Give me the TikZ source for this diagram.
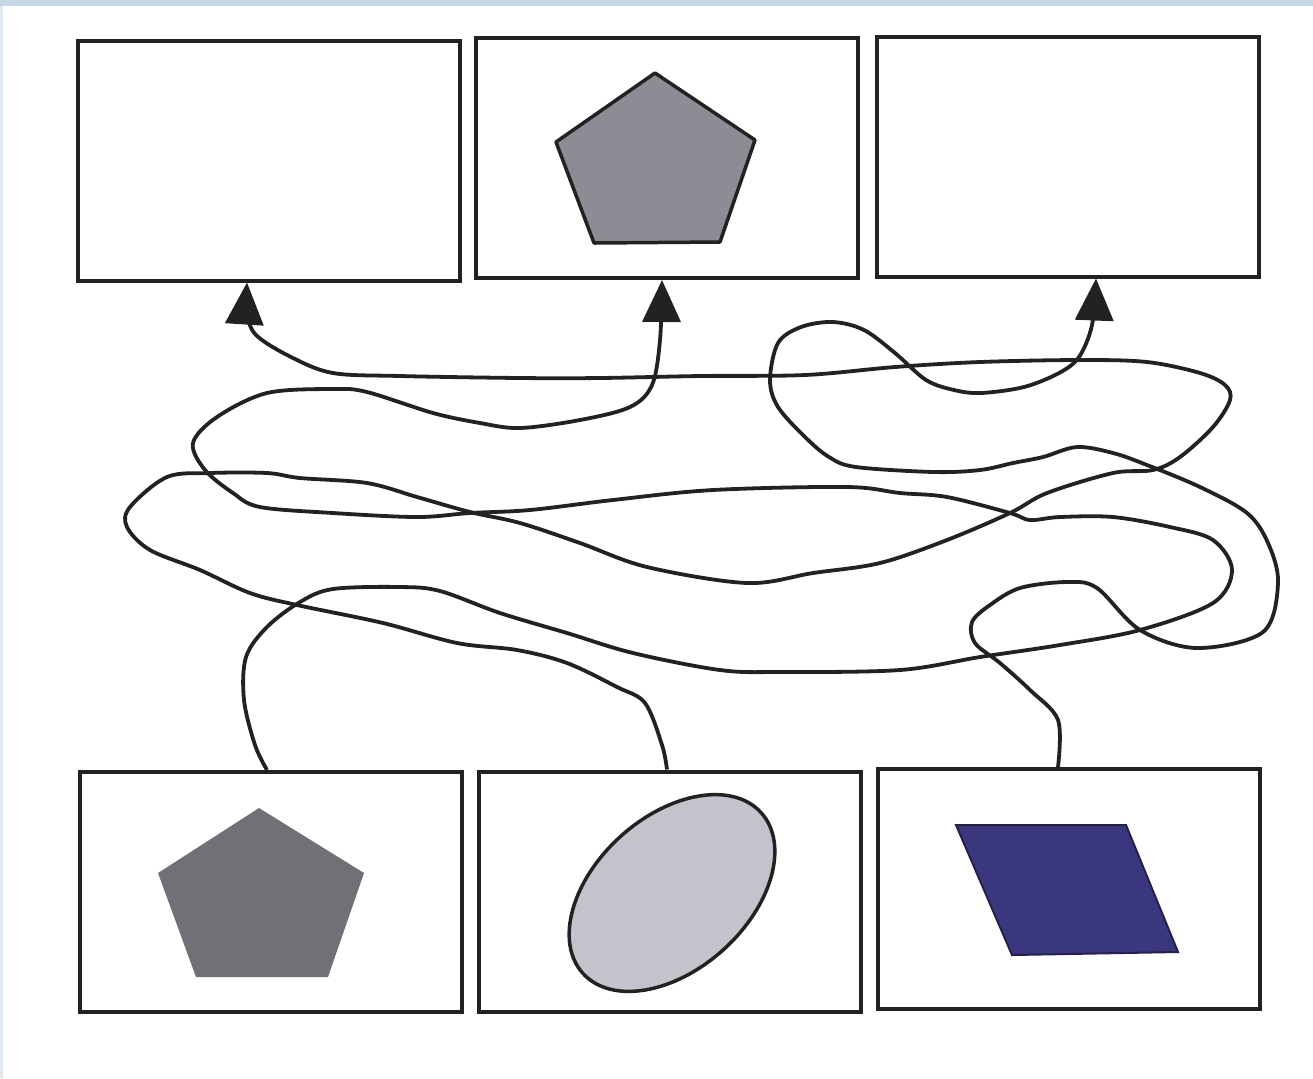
\documentclass[tikz,border=0pt]{standalone}
\usetikzlibrary{arrows.meta}
\definecolor{inkline}{HTML}{222222}
\definecolor{pentagray}{HTML}{8C8C94}
\definecolor{pentadark}{HTML}{707076}
\definecolor{ovalgray}{HTML}{C3C3CB}
\definecolor{rhombblue}{HTML}{3A377F}
\definecolor{stripblue}{HTML}{C9D8E8}
\begin{document}
\begin{tikzpicture}[x=0.1mm, y=-0.1mm, >={Triangle[width=3.8mm,length=4.2mm]},
    panel/.style={draw=inkline, line width=0.4mm, minimum width=38.2mm, minimum height=24mm, inner sep=0pt},
    wire/.style={draw=inkline, line width=0.38mm, ->}]
    \useasboundingbox (0,0) rectangle (1313,1078);
    \fill[stripblue] (0,0) rectangle (1313,6);
    \fill[stripblue!60] (0,6) rectangle (3,1078);
    % top row
    \node[panel] (tl) at (268.5,160.5) {};
    \node[panel] (tm) at (667,158) {};
    \node[panel] (tr) at (1067.5,156.5) {};
    % bottom row
    \node[panel] (bl) at (270.5,892) {};
    \node[panel] (bm) at (670,891.5) {};
    \node[panel] (br) at (1069,889) {};
    % shapes in the panels
    \filldraw[fill=pentagray, draw=inkline, line width=0.35mm, line join=round]
      (655,73) -- (755,140) -- (720,242) -- (594,243) -- (556,142) -- cycle;
    \fill[pentadark] (259,808) -- (364,873) -- (328,977) -- (196,977) -- (158,873) -- cycle;
    \filldraw[fill=ovalgray, draw=inkline, line width=0.35mm, rotate around={42:(672,893)}]
      (672,893) ellipse [x radius=12mm, y radius=7.65mm];
    \filldraw[fill=rhombblue, draw=rhombblue!60!black, line width=0.2mm]
      (956,825) -- (1126,825) -- (1178,952) -- (1012,955) -- cycle;
    % tangled wires
    \draw[wire] plot[smooth, tension=0.55] coordinates {([xshift=-0.3mm]bm.north)
      (662,745) (645,703) (617,687) (567,663) (517,650) (457,643) (383,623) (297,605)
      (250,593) (200,570) (150,550) (127,527) (130,507) (167,477) (210,473) (267,473)
      (300,478) (367,483) (417,497) (470,512) (520,523) (580,543) (647,567) (747,583)
      (813,573) (880,563) (947,540) (1010,513) (1047,493) (1113,473) (1153,470)
      (1180,457) (1213,427) (1230,400) (1225,385) (1200,373) (1147,362) (1080,360)
      (980,362) (895,367) (805,375) (700,376) (600,378) (520,378) (400,376) (333,373)
      (291,357) (256,335) (247,312) ([xshift=-2.15mm]tl.south)};
    \draw[wire] plot[smooth, tension=0.55] coordinates {([xshift=-0.35mm]bl.north)
      (255,745) (244,700) (246,657) (267,627) (300,602) (333,589) (400,587) (440,591)
      (500,613) (567,633) (633,653) (720,670) (780,672) (900,670) (980,657) (1060,645)
      (1140,630) (1213,603) (1232,570) (1213,540) (1170,527) (1113,517) (1060,517)
      (1030,520) (1010,513) (947,497) (900,493) (847,487) (713,490) (613,500) (530,510)
      (470,513) (417,517) (333,513) (260,507) (233,493) (205,470) (193,443) (217,417)
      (267,393) (333,389) (367,392) (433,413) (480,423) (520,428) (580,420) (630,407)
      (652,385) (660,340) ([xshift=-0.5mm]tm.south)};
    \draw[wire] plot[smooth, tension=0.55] coordinates {([xshift=-1.1mm]br.north)
      (1058,720) (1030,690) (1000,663) (975,643) (972,622) (990,605) (1020,588)
      (1067,582) (1097,588) (1140,630) (1197,648) (1263,632) (1278,583) (1268,543)
      (1247,513) (1200,487) (1147,465) (1113,453) (1077,447) (1043,457) (1013,463)
      (980,470) (934,472) (856,467) (829,457) (805,437) (778,407) (770,380) (778,343)
      (801,327) (833,322) (864,330) (895,353) (926,380) (954,390) (981,393) (1024,387)
      (1059,373) (1079,357) (1092,325) ([xshift=2.85mm]tr.south)};
\end{tikzpicture}
\end{document}
